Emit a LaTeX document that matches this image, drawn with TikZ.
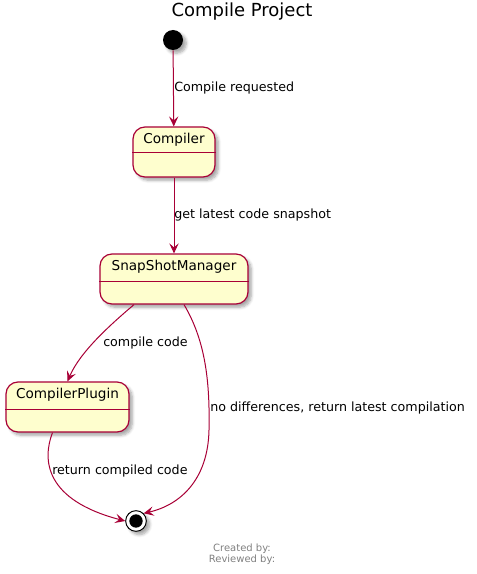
\documentclass[tikz,border=0pt]{standalone}
\usepackage{fontspec}
\setmainfont{DejaVu Sans}
\usetikzlibrary{arrows.meta,shadows.blur,calc}
\definecolor{umlred}{HTML}{A80036}
\definecolor{umlfill}{HTML}{FEFECE}
\begin{document}
\begin{tikzpicture}[x=0.75pt,y=-0.75pt,
  statebox/.style={draw=umlred,fill=umlfill,line width=0.9pt,rounded corners=9pt,
    minimum height=37.5pt,inner sep=0pt,
    blur shadow={shadow xshift=2.5pt,shadow yshift=-2.5pt,shadow opacity=35,shadow blur steps=6}},
  statename/.style={font=\fontsize{10.2}{12}\selectfont,inner sep=0pt},
  edgelabel/.style={font=\fontsize{9.5}{11}\selectfont,inner sep=0pt,anchor=west},
  conn/.style={draw=umlred,line width=0.75pt,-{Stealth[length=7.5pt,width=7pt,inset=3pt]}},
  divider/.style={draw=umlred,line width=0.75pt}]
\useasboundingbox (0,0) rectangle (476,574);
% title
\node[font=\fontsize{13.5}{16}\selectfont,inner sep=0pt] (title) at (242,12) {Compile Project};
% initial
\node[circle,fill=black,minimum size=15pt,inner sep=0pt,
  blur shadow={shadow xshift=2.5pt,shadow yshift=-2.5pt,shadow opacity=35,shadow blur steps=6}] (init) at (173,40) {};
% states
\node[statebox,minimum width=61.5pt] (compiler) at (174,152) {};
\node[statename] (compilerT) at (174,140) {Compiler};
\draw[divider] ($(compiler.west)+(0,1)$) -- ($(compiler.east)+(0,1)$);

\node[statebox,minimum width=111pt] (snap) at (174,279) {};
\node[statename] (snapT) at (174,267) {SnapShotManager};
\draw[divider] ($(snap.west)+(0,2)$) -- ($(snap.east)+(0,2)$);

\node[statebox,minimum width=92.25pt] (plugin) at (67.5,407) {};
\node[statename] (pluginT) at (67.5,395) {CompilerPlugin};
\draw[divider] ($(plugin.west)+(0,2)$) -- ($(plugin.east)+(0,2)$);
% final
\node[circle,draw=black,line width=0.75pt,fill=white,minimum size=15.5pt,inner sep=0pt,
  blur shadow={shadow xshift=2.5pt,shadow yshift=-2.5pt,shadow opacity=35,shadow blur steps=6}] (final) at (136,521) {};
\node[circle,fill=black,minimum size=10pt,inner sep=0pt] (finalin) at (136,521) {};
% connectors
\draw[conn] (init) -- (compiler);
\node[edgelabel] (l1) at (174,88) {Compile requested};
\draw[conn] (compiler) -- (snap);
\node[edgelabel] (l2) at (174,215) {get latest code snapshot};
\draw[conn] ($(snap.south)+(-40,0)$) .. controls (110,325) and (80,352) .. (plugin.north);
\node[edgelabel] (l3) at (103,343) {compile code};
\draw[conn] ($(plugin.south)+(-15,0)$) .. controls (42,460) and (45,500) .. (final.west);
\node[edgelabel] (l4) at (52,471) {return compiled code};
\draw[conn] ($(snap.south)+(10,0)$) .. controls (205,340) and (210,380) .. (209,430)
  .. controls (208,480) and (180,505) .. (final.north east);
\node[edgelabel] (l5) at (210,408) {no differences, return latest compilation};
% footer
\node[font=\fontsize{7.5}{8.5}\selectfont,text=gray,align=center,inner sep=0pt] (footer) at (242,554) {Created by:\\Reviewed by:};
\end{tikzpicture}
\end{document}
